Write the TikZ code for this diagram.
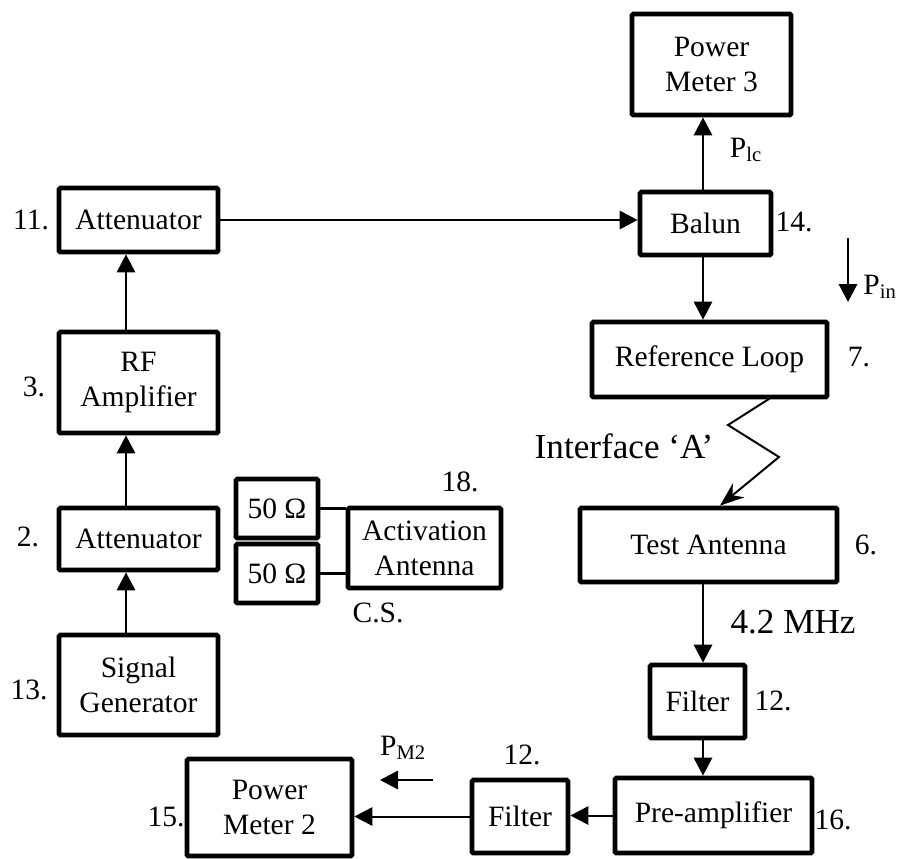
\documentclass[tikz,border=0pt]{standalone}
\usepackage{fontspec}
\setmainfont{Liberation Serif}
\usetikzlibrary{arrows.meta}
\tikzset{
	box/.style={draw, line width=3.4pt, rounded corners=1pt, align=center, inner sep=0pt},
	arr/.style={line width=1.4pt, -{Triangle[length=0.45cm,width=0.46cm]}},
	wire/.style={line width=1.6pt},
	num/.style={inner sep=0pt},
	big/.style={inner sep=0pt, font=\fontsize{25}{30}\selectfont},
}

\begin{document}
\begin{tikzpicture}[x=0.025cm, y=-0.025cm, font=\fontsize{21}{25}\selectfont]
		%%%%% START %%%%%
		\useasboundingbox (0,0) rectangle (901,858);
		
		\coordinate (colL) at (126,0);
		\coordinate (colR) at (703,0);
		
		% left column
		\node[box, minimum width=3.975cm, minimum height=1.6cm] (att11) at (138.5,220) {Attenuator};
		\node[box, minimum width=3.975cm, minimum height=2.525cm] (rfamp) at (138.5,382.5) {RF\\Amplifier};
		\node[box, minimum width=3.975cm, minimum height=1.55cm] (att2) at (138.5,539) {Attenuator};
		\node[box, minimum width=3.975cm, minimum height=2.5cm] (siggen) at (138.5,685) {Signal\\Generator};
		
		% right column
		\node[box, minimum width=3.975cm, minimum height=2.525cm] (pm3) at (711.5,64.5) {Power\\Meter 3};
		\node[box, minimum width=3.275cm, minimum height=1.575cm] (balun) at (705.5,223.5) {Balun};
		\node[box, minimum width=5.875cm, minimum height=1.875cm] (refloop) at (709.5,359.5) {Reference Loop};
		\node[box, minimum width=6.425cm, minimum height=1.85cm] (testant) at (708.5,545) {Test Antenna};
		\node[box, minimum width=2.375cm, minimum height=1.825cm] (filter1) at (697.5,701.5) {Filter};
		\node[box, minimum width=4.925cm, minimum height=1.875cm] (preamp) at (713.5,815.5) {Pre-amplifier};
		\node[box, minimum width=2.4cm, minimum height=1.825cm] (filter2) at (520,816.5) {Filter};
		\node[box, minimum width=4.125cm, minimum height=2.425cm] (pm2) at (269.5,807.5) {Power\\Meter 2};
		
		% activation antenna
		\node[box, minimum width=2.05cm, minimum height=1.475cm] (r50a) at (277,508.5) {50 Ω};
		\node[box, minimum width=2.05cm, minimum height=1.475cm] (r50b) at (277,573.5) {50 Ω};
		\node[box, minimum width=3.825cm, minimum height=2cm] (actant) at (424.5,548) {Activation\\Antenna};
		
		\draw[wire] (r50a.east) -- (r50a.east -| actant.west);
		\draw[wire] (r50b.east) -- (r50b.east -| actant.west);
		
		% signal path
		\draw[arr] (siggen.north -| colL) -- (att2.south -| colL);
		\draw[arr] (att2.north -| colL) -- (rfamp.south -| colL);
		\draw[arr] (rfamp.north -| colL) -- (att11.south -| colL);
		\draw[arr] (att11.east) -- (att11.east -| balun.west);
		\draw[arr] (balun.north -| colR) -- (pm3.south -| colR);
		\draw[arr] (balun.south -| colR) -- (refloop.north -| colR);
		
		\coordinate (zz0) at (772,397);
		\coordinate (zz1) at (728,425);
		\coordinate (zz2) at (779,457);
		\coordinate (zz3) at (720,0);
		\draw[line width=1.4pt, -{Stealth[length=0.6cm,width=0.45cm]}] (zz0) -- (zz1) -- (zz2) -- (testant.north -| zz3);
		
		\draw[arr] (testant.south -| colR) -- (filter1.north -| colR);
		\draw[arr] (filter1.south -| colR) -- (preamp.north -| colR);
		\draw[arr] (preamp.west) -- (preamp.west -| filter2.east);
		\draw[arr] (filter2.west) -- (filter2.west -| pm2.east);
		
		% power arrows
		\coordinate (pinA) at (848,238);
		\coordinate (pinB) at (848,302);
		\draw[arr] (pinA) -- (pinB);
		\coordinate (pmA) at (433,780);
		\coordinate (pmB) at (380,780);
		\draw[arr] (pmA) -- (pmB);
		
		% labels
		\node[num] (n11) at (31,220) {11.};
		\node[num] (n3) at (34,387) {3.};
		\node[num] (n2) at (28,537) {2.};
		\node[num] (n13) at (29,690) {13.};
		\node[num] (n14) at (794,222) {14.};
		\node[num] (n7) at (859,357) {7.};
		\node[num] (n6) at (866,545) {6.};
		\node[num] (n12a) at (773,701) {12.};
		\node[num] (n16) at (833,820) {16.};
		\node[num] (n12b) at (522,755) {12.};
		\node[num] (n15) at (166,817) {15.};
		\node[num] (n18) at (460,482) {18.};
		\node[num] (cs) at (378,613) {C.S.};
		\node[num] (plc) at (746,150) {P\textsubscript{lc}};
		\node[num] (pin) at (880,287) {P\textsubscript{in}};
		\node[num] (pm2lab) at (403,748) {P\textsubscript{M2}};
		\node[big] (iface) at (624,446) {Interface ‘A’};
		\node[big] (freq) at (793,622) {4.2 MHz};
		
		%%%%% END %%%%%
	\end{tikzpicture}
\end{document}
